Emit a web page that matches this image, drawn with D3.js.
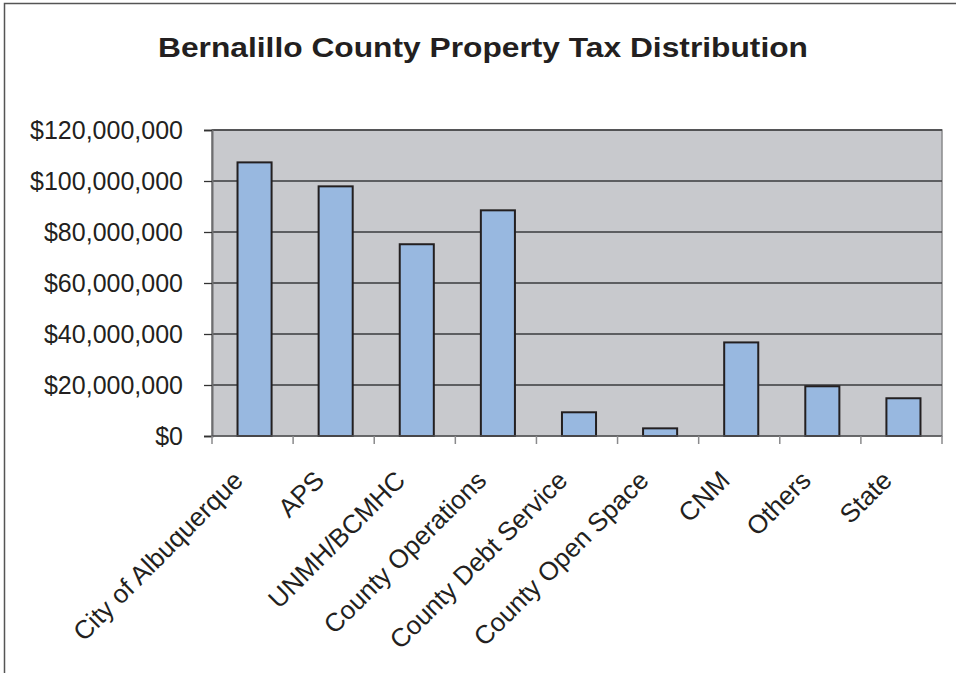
<!DOCTYPE html>
<html>
<head>
<meta charset="utf-8">
<script src="https://cdn.jsdelivr.net/npm/d3@7"></script>
<style>
  body { margin: 0; background: #ffffff; }
  svg text { font-family: "Liberation Sans", Arial, sans-serif; fill: #231f20; }
</style>
</head>
<body>
<svg id="chart" width="956" height="673"></svg>
<script>
  // values
  var categories = ["City of Albuquerque", "APS", "UNMH/BCMHC", "County Operations",
                    "County Debt Service", "County Open Space", "CNM", "Others", "State"];
  var amounts = [107300000, 97900000, 75200000, 88500000, 9300000, 3000000, 36700000, 19500000, 14800000];
  var yTicks = [0, 20000000, 40000000, 60000000, 80000000, 100000000, 120000000];

  var svg = d3.select("svg#chart");
  var plotL = 212, plotR = 942, plotT = 130, plotB = 436;

  var x = d3.scaleBand().domain(categories).range([plotL, plotR])
      .paddingInner(0.58).paddingOuter(0.29);
  var y = d3.scaleLinear().domain([0, 120000000]).range([plotB, plotT]);
  var fmt = d => "$" + d3.format(",")(d);

  // outer frame
  svg.append("rect").attr("x", 4.5).attr("y", 3.5).attr("width", 1000).attr("height", 1000)
      .attr("fill", "none").attr("stroke", "#555555").attr("stroke-width", 1.5);

  svg.append("text").attr("x", 483).attr("y", 57).attr("text-anchor", "middle")
      .attr("font-size", 27).attr("font-weight", "bold")
      .attr("textLength", 650).attr("lengthAdjust", "spacingAndGlyphs")
      .text("Bernalillo County Property Tax Distribution");

  // plot area
  svg.append("rect").attr("x", plotL).attr("y", plotT)
      .attr("width", plotR - plotL).attr("height", plotB - plotT)
      .attr("fill", "#c8c9cd").attr("stroke", "#8a8a8c").attr("stroke-width", 1.5);

  svg.append("g").selectAll("line").data(yTicks.filter(d => d > 0)).join("line")
      .attr("x1", plotL).attr("x2", plotR)
      .attr("y1", d => y(d)).attr("y2", d => y(d))
      .attr("stroke", "#3a3a3c").attr("stroke-width", 1.3);

  // y axis
  var yAxis = svg.append("g").attr("transform", "translate(" + plotL + ",0)")
      .call(d3.axisLeft(y).tickValues(yTicks).tickFormat(fmt).tickSize(8).tickPadding(21));
  yAxis.select(".domain").attr("stroke", "#6d6d6f").attr("stroke-width", 2);
  yAxis.selectAll(".tick line").attr("stroke", "#333333").attr("stroke-width", 1.3);
  yAxis.selectAll(".tick text").attr("font-size", 25).attr("fill", "#231f20")
      .style("font-family", "'Liberation Sans', Arial, sans-serif");

  // bars
  svg.append("g").selectAll("rect").data(amounts).join("rect")
      .attr("x", (d, i) => x(categories[i]) + 2)
      .attr("width", x.bandwidth())
      .attr("y", d => y(d))
      .attr("height", d => y(0) - y(d))
      .attr("fill", "#98b8e0").attr("stroke", "#231f20").attr("stroke-width", 2);

  // x axis line and ticks at band boundaries
  svg.append("line").attr("x1", plotL).attr("x2", plotR).attr("y1", plotB).attr("y2", plotB)
      .attr("stroke", "#555557").attr("stroke-width", 1.5);
  var bounds = categories.map(c => x(c) - (x.step() - x.bandwidth()) / 2).concat([plotR]);
  svg.append("g").selectAll("line").data(bounds).join("line")
      .attr("x1", d => d).attr("x2", d => d).attr("y1", plotB).attr("y2", plotB + 8)
      .attr("stroke", "#8a8a8c").attr("stroke-width", 1.5);

  // rotated category labels
  svg.append("g").selectAll("text").data(categories).join("text")
      .attr("transform", d => "translate(" + (x(d) + x.bandwidth() / 2 - 8) + ",482) rotate(-45)")
      .attr("text-anchor", "end").attr("font-size", 26)
      .text(d => d);
</script>
</body>
</html>
